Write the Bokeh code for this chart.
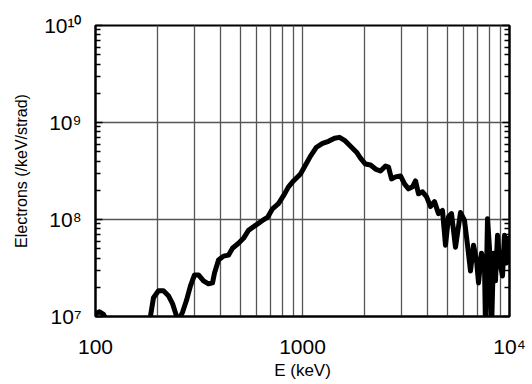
from bokeh.plotting import figure
from bokeh.models import LogAxis, FixedTicker
from bokeh.embed import file_html
from bokeh.resources import INLINE

energy_kev = [100, 104.5, 109.3, 113, 115.6, 174, 184.5, 190.6, 201.5, 213,
              225, 235.5, 246, 251.8, 263, 275, 287.6, 300.8, 314.5, 332.5,
              351.5, 367.5, 375.8, 392.9, 415.4, 439, 459, 490.7, 518.8, 548.3,
              592.9, 641, 677.5, 716.3, 765.6, 809.5, 855.7, 904.6, 977.9, 1034,
              1093, 1168, 1249, 1335, 1428, 1509, 1596, 1706, 1824, 1906,
              2015, 2131, 2253, 2381, 2518, 2603, 2692, 2814, 2975, 3111,
              3252, 3400, 3516, 3635, 3800, 3972, 4154, 4342, 4540, 4746,
              4907, 5074, 5246, 5484, 5799, 6062, 6269, 6480, 6700, 6928,
              7084, 7322, 7572, 7656, 7830, 8006, 8185, 8369, 8557, 8750,
              8947, 9251, 9458, 9672, 9890, 10100]

electrons = [1.07e7, 1.12e7, 1.05e7, 0.93e7, 6.9e6, 6.9e6, 1.02e7, 1.56e7, 1.84e7, 1.84e7,
             1.64e7, 1.36e7, 1.02e7, 0.91e7, 1.10e7, 1.46e7, 2.07e7, 2.68e7, 2.68e7, 2.33e7,
             2.17e7, 2.22e7, 2.81e7, 3.82e7, 4.19e7, 4.29e7, 5.06e7, 5.69e7, 6.4e7, 7.73e7,
             8.69e7, 9.77e7, 1.05e8, 1.29e8, 1.46e8, 1.76e8, 2.17e8, 2.50e8, 2.95e8, 3.64e8,
             4.5e8, 5.56e8, 6.1e8, 6.4e8, 6.87e8, 7.03e8, 6.55e8, 5.69e8, 4.94e8, 4.3e8,
             3.73e8, 3.64e8, 3.31e8, 3.16e8, 3.56e8, 3.47e8, 2.62e8, 2.75e8, 2.81e8, 2.33e8,
             2.07e8, 2.17e8, 2.50e8, 1.84e8, 1.93e8, 1.72e8, 1.36e8, 1.53e8, 1.15e8, 1.24e8,
             5.43e7, 1.07e8, 1.15e8, 5.18e7, 1.18e8, 9.77e7, 5.43e7, 2.94e7, 5.43e7, 3.82e7,
             2.22e7, 4.5e7, 3.31e7, 7.7e6, 1.02e8, 5.06e7, 6.9e6, 4.5e7, 2.33e7, 6.87e7,
             3.82e7, 2.62e7, 6.87e7, 3.56e7, 6.4e7, 4.0e7]

x_ticks = [100, 1000, 10000]
x_tick_labels = ["100", "1000", "10\u2074"]
y_ticks = [1e7, 1e8, 1e9, 1e10]
y_tick_labels = ["10\u2077", "10\u2078", "10\u2079", "10\u00b9\u2070"]
x_label = "E (keV)"
y_label = "Electrons (/keV/strad)"

FONT = "Liberation Sans"
GRID = "#555555"

x_minor = [k * 10 ** d for d in (2, 3) for k in range(2, 10)]
y_minor = [k * 10 ** d for d in (7, 8, 9) for k in range(2, 10)]

p = figure(width=530, height=382, x_axis_type="log", y_axis_type="log",
           x_range=(100, 10000), y_range=(1e7, 1e10),
           output_backend="svg", toolbar_location=None,
           min_border_left=95, min_border_right=21,
           min_border_top=25, min_border_bottom=63)

p.line(energy_kev, electrons, line_width=5, line_color="black",
       line_join="round", line_cap="round")

p.outline_line_color = "black"
p.outline_line_width = 2
p.outline_line_alpha = 1

# x axis
xa = p.xaxis[0]
xa.ticker = FixedTicker(ticks=x_ticks, minor_ticks=x_minor)
xa.major_label_overrides = {t: s for t, s in zip(x_ticks, x_tick_labels)}
xa.major_tick_in = 0
xa.major_tick_out = 0
xa.minor_tick_in = 0
xa.minor_tick_out = 0
xa.axis_line_color = "black"
xa.axis_line_width = 2
xa.major_label_text_font = FONT
xa.major_label_text_font_size = "21px"
xa.major_label_text_color = "black"
xa.major_label_standoff = 18
xa.axis_label = x_label
xa.axis_label_text_font = FONT
xa.axis_label_text_font_size = "17px"
xa.axis_label_text_font_style = "normal"
xa.axis_label_text_color = "black"
xa.axis_label_standoff = 0

# y axis
ya = p.yaxis[0]
ya.ticker = FixedTicker(ticks=y_ticks, minor_ticks=y_minor)
ya.major_label_overrides = {t: s for t, s in zip(y_ticks, y_tick_labels)}
ya.major_tick_in = 7
ya.major_tick_out = 0
ya.minor_tick_in = 5
ya.minor_tick_out = 0
ya.major_tick_line_width = 1.5
ya.minor_tick_line_width = 1.5
ya.axis_line_color = "black"
ya.axis_line_width = 2
ya.major_label_text_font = FONT
ya.major_label_text_font_size = "21px"
ya.major_label_text_color = "black"
ya.major_label_standoff = 14
ya.axis_label = y_label
ya.axis_label_text_font = FONT
ya.axis_label_text_font_size = "16px"
ya.axis_label_text_font_style = "normal"
ya.axis_label_text_color = "black"
ya.axis_label_standoff = 11

# right axis with inward ticks, no labels
ra = LogAxis(ticker=FixedTicker(ticks=y_ticks, minor_ticks=y_minor),
             major_label_overrides={t: " " for t in y_ticks},
             major_label_text_font_size="2px", major_label_text_color=None,
             major_label_standoff=0,
             major_tick_in=7, major_tick_out=0, minor_tick_in=5, minor_tick_out=0,
             major_tick_line_width=1.5, minor_tick_line_width=1.5,
             axis_line_color="black", axis_line_width=2)
p.add_layout(ra, "right")

# grids
p.xgrid.ticker = FixedTicker(ticks=x_ticks, minor_ticks=x_minor)
p.xgrid.grid_line_color = GRID
p.xgrid.grid_line_width = 1.3
p.xgrid.minor_grid_line_color = GRID
p.xgrid.minor_grid_line_width = 1.3
p.ygrid.ticker = FixedTicker(ticks=y_ticks, minor_ticks=y_minor)
p.ygrid.grid_line_color = GRID
p.ygrid.grid_line_width = 1.3
p.ygrid.minor_grid_line_color = None

open("out.html", "w").write(file_html(p, INLINE))
